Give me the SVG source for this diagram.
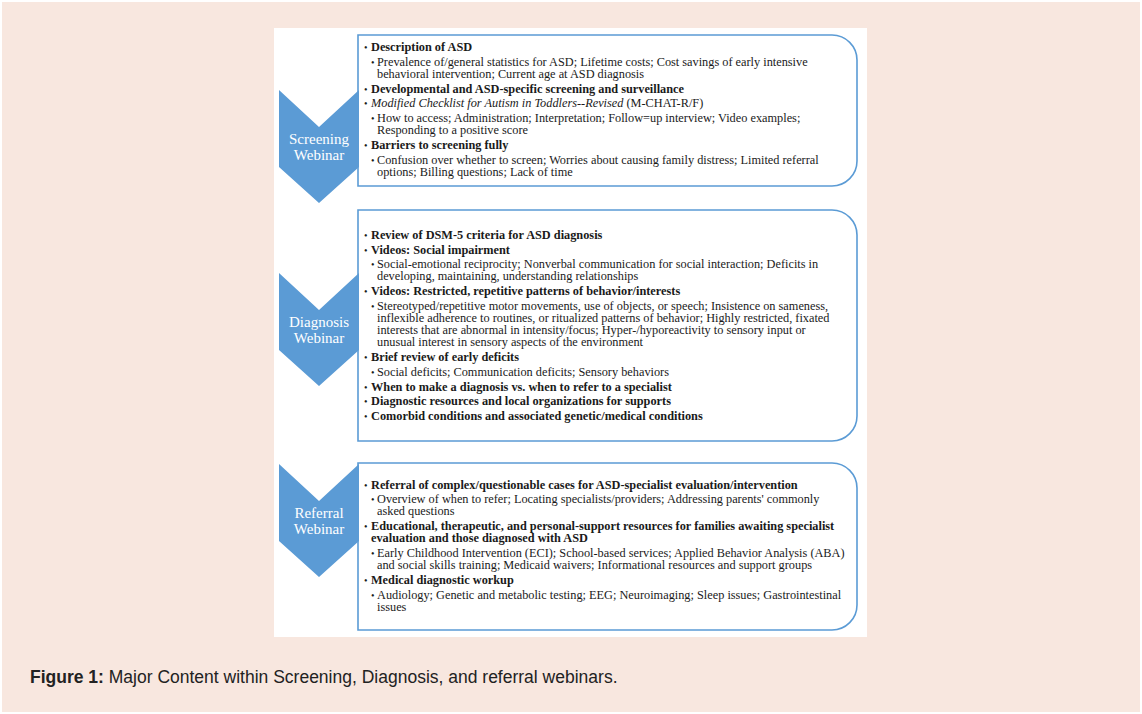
<svg xmlns="http://www.w3.org/2000/svg" width="1142" height="714" viewBox="0 0 1142 714">
<style>
.t{font-family:"Liberation Serif","Times New Roman",serif;font-size:12.3px;fill:#1a1a1a}
.b{font-weight:bold}
.i{font-style:italic}
.bu{font-family:"Liberation Serif",serif;font-size:10px;fill:#1a1a1a}
.box{fill:#fff;stroke:#5B9BD5;stroke-width:1.6}
.chev{fill:#5B9BD5}
.ct{font-family:"Liberation Serif","Times New Roman",serif;font-size:15px;fill:#fff;text-anchor:middle}
.cap{font-family:"Liberation Sans",Arial,sans-serif;font-size:17.5px;fill:#222}
</style>
<rect x="2" y="2" width="1138" height="710" fill="#F8E7DF"/>
<rect x="274" y="28" width="593" height="609" fill="#fff"/>

<g id="screening">
<path class="box" d="M358,35 H832 A25,25 0 0 1 857,60 V161 A25,25 0 0 1 832,186 H358 Z"/>
<polygon class="chev" points="279,90 319,127 359,90 359,167 319,203 279,167"/>
<text class="ct" x="319" y="144">Screening</text>
<text class="ct" x="319" y="160">Webinar</text>
<text class="bu" x="364" y="51">•</text><text class="t b" x="371" y="51">Description of ASD</text>
<text class="bu" x="371" y="66">•</text><text class="t" x="377" y="66">Prevalence of/general statistics for ASD; Lifetime costs; Cost savings of early intensive</text>
<text class="t" x="377" y="78">behavioral intervention; Current age at ASD diagnosis</text>
<text class="bu" x="364" y="93">•</text><text class="t b" x="371" y="93">Developmental and ASD-specific screening and surveillance</text>
<text class="bu" x="364" y="107">•</text><text class="t" x="371" y="107"><tspan class="i">Modified Checklist for Autism in Toddlers--Revised</tspan> (M-CHAT-R/F)</text>
<text class="bu" x="371" y="122">•</text><text class="t" x="377" y="122">How to access; Administration; Interpretation; Follow=up interview; Video examples;</text>
<text class="t" x="377" y="134">Responding to a positive score</text>
<text class="bu" x="364" y="149">•</text><text class="t b" x="371" y="149">Barriers to screening fully</text>
<text class="bu" x="371" y="164">•</text><text class="t" x="377" y="164">Confusion over whether to screen; Worries about causing family distress; Limited referral</text>
<text class="t" x="377" y="176">options; Billing questions; Lack of time</text>
</g>

<g id="diagnosis">
<path class="box" d="M358,210 H832 A25,25 0 0 1 857,235 V416 A25,25 0 0 1 832,441 H358 Z"/>
<polygon class="chev" points="279,273 319,310 359,273 359,350 319,386 279,350"/>
<text class="ct" x="319" y="327">Diagnosis</text>
<text class="ct" x="319" y="343">Webinar</text>
<text class="bu" x="364" y="239">•</text><text class="t b" x="371" y="239">Review of DSM-5 criteria for ASD diagnosis</text>
<text class="bu" x="364" y="254">•</text><text class="t b" x="371" y="254">Videos: Social impairment</text>
<text class="bu" x="371" y="268">•</text><text class="t" x="377" y="268">Social-emotional reciprocity; Nonverbal communication for social interaction; Deficits in</text>
<text class="t" x="377" y="280">developing, maintaining, understanding relationships</text>
<text class="bu" x="364" y="295">•</text><text class="t b" x="371" y="295">Videos: Restricted, repetitive patterns of behavior/interests</text>
<text class="bu" x="371" y="310">•</text><text class="t" x="377" y="310">Stereotyped/repetitive motor movements, use of objects, or speech; Insistence on sameness,</text>
<text class="t" x="377" y="322">inflexible adherence to routines, or ritualized patterns of behavior; Highly restricted, fixated</text>
<text class="t" x="377" y="334">interests that are abnormal in intensity/focus; Hyper-/hyporeactivity to sensory input or</text>
<text class="t" x="377" y="346">unusual interest in sensory aspects of the environment</text>
<text class="bu" x="364" y="361">•</text><text class="t b" x="371" y="361">Brief review of early deficits</text>
<text class="bu" x="371" y="376">•</text><text class="t" x="377" y="376">Social deficits; Communication deficits; Sensory behaviors</text>
<text class="bu" x="364" y="391">•</text><text class="t b" x="371" y="391">When to make a diagnosis vs. when to refer to a specialist</text>
<text class="bu" x="364" y="405">•</text><text class="t b" x="371" y="405">Diagnostic resources and local organizations for supports</text>
<text class="bu" x="364" y="420">•</text><text class="t b" x="371" y="420">Comorbid conditions and associated genetic/medical conditions</text>
</g>

<g id="referral">
<path class="box" d="M358,463 H832 A25,25 0 0 1 857,488 V605 A25,25 0 0 1 832,630 H358 Z"/>
<polygon class="chev" points="279,464 319,501 359,464 359,541 319,577 279,541"/>
<text class="ct" x="319" y="518">Referral</text>
<text class="ct" x="319" y="534">Webinar</text>
<text class="bu" x="364" y="489">•</text><text class="t b" x="371" y="489">Referral of complex/questionable cases for ASD-specialist evaluation/intervention</text>
<text class="bu" x="371" y="503">•</text><text class="t" x="377" y="503">Overview of when to refer; Locating specialists/providers; Addressing parents' commonly</text>
<text class="t" x="377" y="515">asked questions</text>
<text class="bu" x="364" y="530">•</text><text class="t b" x="371" y="530">Educational, therapeutic, and personal-support resources for families awaiting specialist</text>
<text class="t b" x="371" y="542">evaluation and those diagnosed with ASD</text>
<text class="bu" x="371" y="557">•</text><text class="t" x="377" y="557">Early Childhood Intervention (ECI); School-based services; Applied Behavior Analysis (ABA)</text>
<text class="t" x="377" y="569">and social skills training; Medicaid waivers; Informational resources and support groups</text>
<text class="bu" x="364" y="584">•</text><text class="t b" x="371" y="584">Medical diagnostic workup</text>
<text class="bu" x="371" y="599">•</text><text class="t" x="377" y="599">Audiology; Genetic and metabolic testing; EEG; Neuroimaging; Sleep issues; Gastrointestinal</text>
<text class="t" x="377" y="611">issues</text>
</g>

<g id="connectors"></g>

<text class="cap" x="30" y="683"><tspan font-weight="bold">Figure 1:</tspan> Major Content within Screening, Diagnosis, and referral webinars.</text>
</svg>
